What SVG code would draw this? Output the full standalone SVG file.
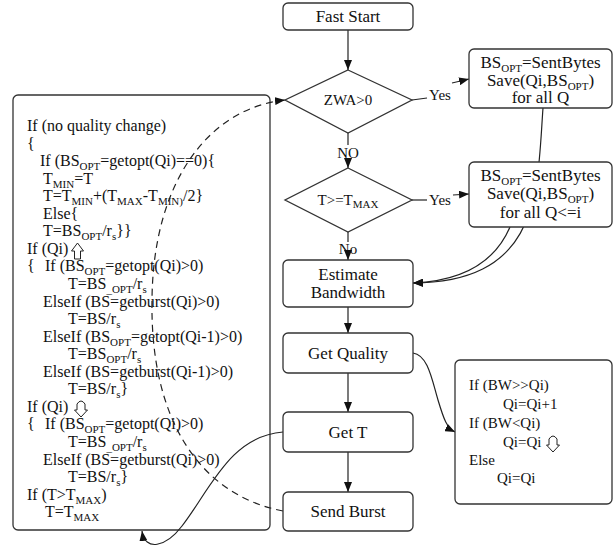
<svg xmlns="http://www.w3.org/2000/svg" width="613" height="552" viewBox="0 0 613 552">
  <style>
    .box { fill: #ffffff; stroke: #333333; stroke-width: 1.3; }
    .lbl { font-family: "Liberation Serif", serif; font-size: 17px; fill: #111111; text-anchor: middle; }
    .dl { font-family: "Liberation Serif", serif; font-size: 15px; fill: #111111; text-anchor: middle; }
    .code { font-family: "Liberation Serif", serif; font-size: 16px; fill: #111111; }
    .rcode { font-family: "Liberation Serif", serif; font-size: 15px; fill: #111111; }
    .sb { font-size: 11px; }
    .ln { fill: none; stroke: #222222; stroke-width: 1.2; }
    .dash { fill: none; stroke: #222222; stroke-width: 1.2; stroke-dasharray: 7 5; }
    .sym { fill: #ffffff; stroke: #222222; stroke-width: 1; }
  </style>
  <defs>
    <marker id="ah" viewBox="0 0 10 8" refX="10" refY="4" markerWidth="10" markerHeight="8" markerUnits="userSpaceOnUse" orient="auto">
      <path d="M0,0 L10,4 L0,8 Z" fill="#111111"/>
    </marker>
  </defs>
  <rect width="613" height="552" fill="#ffffff"/>

  <!-- pseudo-code panel -->
  <g id="code-panel">
    <rect class="box" x="13" y="95" width="257" height="435" rx="5" stroke="#444444" stroke-width="1.5"/>
    <text class="code">
      <tspan x="27" y="131">If (no quality change)</tspan>
      <tspan x="27" y="148.6">{</tspan>
      <tspan x="40" y="166.1">If (BS<tspan class="sb" dy="4">OPT</tspan><tspan dy="-4">=getopt(Qi)==0){</tspan></tspan>
      <tspan x="43" y="183.7">T<tspan class="sb" dy="4">MIN</tspan><tspan dy="-4">=T</tspan></tspan>
      <tspan x="43" y="201.2">T=T<tspan class="sb" dy="4">MIN</tspan><tspan dy="-4">+(T</tspan><tspan class="sb" dy="4">MAX</tspan><tspan dy="-4">-T</tspan><tspan class="sb" dy="4">MIN)</tspan><tspan dy="-4">/2}</tspan></tspan>
      <tspan x="43" y="218.8">Else{</tspan>
      <tspan x="43" y="236.3">T=BS<tspan class="sb" dy="4">OPT</tspan><tspan dy="-4">/r</tspan><tspan class="sb" dy="4">s</tspan><tspan dy="-4">}}</tspan></tspan>
      <tspan x="27" y="253.9">If (Qi)</tspan>
      <tspan x="27" y="271.4">{</tspan>
      <tspan x="45" y="271.4">If (BS<tspan class="sb" dy="4">OPT</tspan><tspan dy="-4">=getopt(Qi)&gt;0)</tspan></tspan>
      <tspan x="68" y="289">T=BS<tspan class="sb" dy="4">_OPT</tspan><tspan dy="-4">/r</tspan><tspan class="sb" dy="4">s</tspan></tspan>
      <tspan x="43" y="306.5">ElseIf (BS=getburst(Qi)&gt;0)</tspan>
      <tspan x="68" y="324">T=BS/r<tspan class="sb" dy="4">s</tspan></tspan>
      <tspan x="43" y="341.6">ElseIf (BS<tspan class="sb" dy="4">OPT</tspan><tspan dy="-4">=getopt(Qi-1)&gt;0)</tspan></tspan>
      <tspan x="68" y="359.2">T=BS<tspan class="sb" dy="4">OPT</tspan><tspan dy="-4">/r</tspan><tspan class="sb" dy="4">s</tspan></tspan>
      <tspan x="43" y="376.7">ElseIf (BS=getburst(Qi-1)&gt;0)</tspan>
      <tspan x="68" y="394.3">T=BS/r<tspan class="sb" dy="4">s</tspan><tspan dy="-4">}</tspan></tspan>
      <tspan x="27" y="411.8">If (Qi)</tspan>
      <tspan x="27" y="429.4">{</tspan>
      <tspan x="45" y="429.4">If (BS<tspan class="sb" dy="4">OPT</tspan><tspan dy="-4">=getopt(Qi)&gt;0)</tspan></tspan>
      <tspan x="68" y="446.9">T=BS<tspan class="sb" dy="4">_OPT</tspan><tspan dy="-4">/r</tspan><tspan class="sb" dy="4">s</tspan></tspan>
      <tspan x="43" y="464.5">ElseIf (BS=getburst(Qi)&gt;0)</tspan>
      <tspan x="68" y="482">T=BS/r<tspan class="sb" dy="4">s</tspan><tspan dy="-4">}</tspan></tspan>
      <tspan x="27" y="499.6">If (T&gt;T<tspan class="sb" dy="4">MAX</tspan><tspan dy="-4">)</tspan></tspan>
      <tspan x="45" y="517.1">T=T<tspan class="sb" dy="4">MAX</tspan></tspan>
    </text>
    <!-- quality up / down symbols -->
    <path class="sym" d="M77.5,243 L83.5,251 L80.5,251 L80.5,259 L74.5,259 L74.5,251 L71.5,251 Z"/>
    <path class="sym" d="M77,410 L77,404 Q81,398 85,404 L85,410 L87.5,410 L81,417 L74.5,410 Z"/>
  </g>

  <!-- connectors -->
  <g id="connectors">
    <line class="ln" x1="348" y1="30" x2="348" y2="70" marker-end="url(#ah)"/>
    <line class="ln" x1="348" y1="133" x2="348" y2="145"/>
    <line class="ln" x1="348" y1="160" x2="348" y2="168" marker-end="url(#ah)"/>
    <line class="ln" x1="348" y1="232" x2="348" y2="242"/>
    <line class="ln" x1="348" y1="256" x2="348" y2="260" marker-end="url(#ah)"/>
    <line class="ln" x1="348" y1="307" x2="348" y2="333" marker-end="url(#ah)"/>
    <line class="ln" x1="348" y1="373" x2="348" y2="412" marker-end="url(#ah)"/>
    <line class="ln" x1="348" y1="452" x2="348" y2="492" marker-end="url(#ah)"/>
    <!-- Yes branches -->
    <line class="ln" x1="412" y1="100" x2="427" y2="98"/>
    <line class="ln" x1="452" y1="83" x2="469" y2="79" marker-end="url(#ah)"/>
    <line class="ln" x1="412" y1="200" x2="427" y2="200"/>
    <line class="ln" x1="453" y1="195" x2="469" y2="194" marker-end="url(#ah)"/>
    <!-- returns into Estimate Bandwidth -->
    <path class="ln" d="M543,108 C537,190 542,282 413,283" marker-end="url(#ah)"/>
    <path class="ln" d="M510,227 C495,262 462,281 413,283" marker-end="url(#ah)"/>
    <!-- Get Quality to rule panel -->
    <path class="ln" d="M413,353 C428,355 432,380 438,400 C444,420 447,428 455,432" marker-end="url(#ah)"/>
    <!-- Get T to code panel -->
    <path class="ln" d="M283,432 C230,436 210,490 182,526 C166,547 145,552 142,531" marker-end="url(#ah)"/>
    <!-- Send Burst back to ZWA decision -->
    <path class="dash" d="M283,511 C200,495 150,420 152,300 C153,180 210,108 285,100" marker-end="url(#ah)"/>
  </g>

  <!-- connector labels -->
  <g id="labels">
    <text class="dl" x="440" y="100">Yes</text>
    <text class="dl" x="440" y="205">Yes</text>
    <text class="dl" x="348" y="158">NO</text>
    <text class="dl" x="348" y="254">No</text>
  </g>

  <g id="fast-start">
    <rect class="box" x="283" y="3" width="130" height="27" rx="5"/>
    <text class="lbl" x="348" y="22">Fast Start</text>
  </g>

  <g id="zwa-decision">
    <polygon class="box" points="348,70 412,100 348,133 285,100"/>
    <text class="dl" x="348" y="105">ZWA&gt;0</text>
  </g>

  <g id="save-all">
    <rect class="box" x="469" y="49" width="143" height="59" rx="5"/>
    <text class="lbl" x="540.5" y="67.5">BS<tspan class="sb" dy="4">OPT</tspan><tspan dy="-4">=SentBytes</tspan></text>
    <text class="lbl" x="540.5" y="85.5">Save(Qi,BS<tspan class="sb" dy="4">OPT</tspan><tspan dy="-4">)</tspan></text>
    <text class="lbl" x="540.5" y="102.5">for all Q</text>
  </g>

  <g id="tmax-decision">
    <polygon class="box" points="348,168 412,200 348,232 285,200"/>
    <text class="dl" x="348" y="205">T&gt;=T<tspan class="sb" dy="3">MAX</tspan></text>
  </g>

  <g id="save-lower">
    <rect class="box" x="469" y="162" width="143" height="65" rx="5"/>
    <text class="lbl" x="540.5" y="180.5">BS<tspan class="sb" dy="4">OPT</tspan><tspan dy="-4">=SentBytes</tspan></text>
    <text class="lbl" x="540.5" y="198.5">Save(Qi,BS<tspan class="sb" dy="4">OPT</tspan><tspan dy="-4">)</tspan></text>
    <text class="lbl" x="540.5" y="217.5">for all Q&lt;=i</text>
  </g>

  <g id="estimate-bandwidth">
    <rect class="box" x="283" y="260" width="130" height="47" rx="5"/>
    <text class="lbl" x="348" y="280">Estimate</text>
    <text class="lbl" x="348" y="298">Bandwidth</text>
  </g>

  <g id="get-quality">
    <rect class="box" x="283" y="333" width="130" height="40" rx="5"/>
    <text class="lbl" x="348" y="359">Get Quality</text>
  </g>

  <g id="get-t">
    <rect class="box" x="283" y="412" width="130" height="40" rx="5"/>
    <text class="lbl" x="348" y="438">Get T</text>
  </g>

  <g id="send-burst">
    <rect class="box" x="283" y="492" width="130" height="39" rx="5"/>
    <text class="lbl" x="348" y="517">Send Burst</text>
  </g>

  <g id="quality-rules">
    <rect class="box" x="455" y="360" width="157" height="144" rx="5"/>
    <text class="rcode">
      <tspan x="469" y="390">If (BW&gt;&gt;Qi)</tspan>
      <tspan x="503" y="409">Qi=Qi+1</tspan>
      <tspan x="469" y="428">If  (BW&lt;Qi)</tspan>
      <tspan x="503" y="447">Qi=Qi</tspan>
      <tspan x="469" y="465">Else</tspan>
      <tspan x="497" y="483">Qi=Qi</tspan>
    </text>
    <path class="sym" d="M549,445 L549,439 Q553,433 557,439 L557,445 L559.5,445 L553,452 L546.5,445 Z"/>
  </g>
</svg>
